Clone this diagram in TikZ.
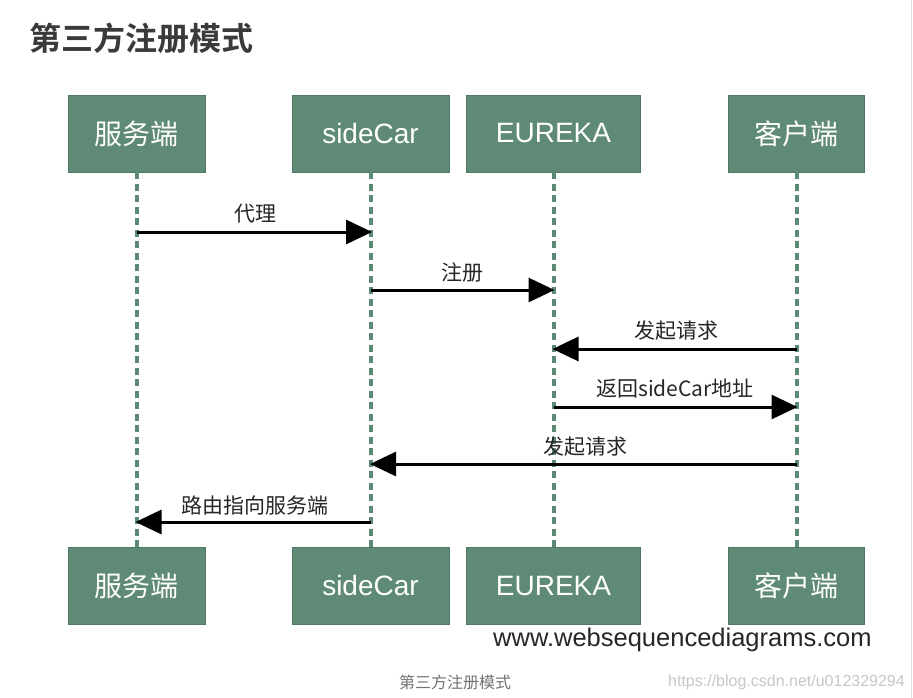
\documentclass[tikz,border=0pt]{standalone}
\usepackage{fontspec}
\setmainfont{Liberation Sans}
\newfontfamily\cjk{Noto Sans CJK SC}
\newfontfamily\cjkb{Noto Sans CJK SC Bold}
\usetikzlibrary{arrows.meta}
\definecolor{boxgreen}{HTML}{5F8A75}
\definecolor{boxedge}{HTML}{4E7A64}
\definecolor{lifegreen}{HTML}{5A8A74}
\definecolor{titlegray}{HTML}{3A3A3A}
\begin{document}
\begin{tikzpicture}[x=1pt,y=-1pt,
  actor/.style={draw=boxedge,line width=0.8pt,fill=boxgreen,minimum height=77pt,inner sep=0pt,text=white},
  lifeline/.style={draw=lifegreen,line width=4pt,dash pattern=on 7pt off 4.5pt},
  msg/.style={draw=black,line width=3pt,-{Triangle[length=26pt,width=24pt]},shorten >=-1pt},
  msglabel/.style={font=\cjk\fontsize{21}{24}\selectfont,text=black!85,inner sep=0pt}
]
\useasboundingbox (0,0) rectangle (913,698);
\fill[white] (0,0) rectangle (913,698);
\draw[black!12,line width=1pt] (911,0) -- (911,698);
% title
\node[anchor=west,inner sep=0pt,text=titlegray,font=\cjkb\fontsize{32}{36}\selectfont] (title) at (29,38) {第三方注册模式};
% boxes top
\node[actor,minimum width=137pt,font=\cjk\fontsize{28}{30}\selectfont] (s1) at (136.5,133.5) {服务端};
\node[actor,minimum width=157pt,font=\fontsize{28}{30}\selectfont] (c1) at (370.5,133.5) {sideCar};
\node[actor,minimum width=174pt,font=\fontsize{28}{30}\selectfont] (e1) at (553.5,133.5) {EUREKA};
\node[actor,minimum width=136pt,font=\cjk\fontsize{28}{30}\selectfont] (k1) at (796.5,133.5) {客户端};
% boxes bottom
\node[actor,minimum width=137pt,font=\cjk\fontsize{28}{30}\selectfont] (s2) at (136.5,585.5) {服务端};
\node[actor,minimum width=157pt,font=\fontsize{28}{30}\selectfont] (c2) at (370.5,585.5) {sideCar};
\node[actor,minimum width=174pt,font=\fontsize{28}{30}\selectfont] (e2) at (553.5,585.5) {EUREKA};
\node[actor,minimum width=136pt,font=\cjk\fontsize{28}{30}\selectfont] (k2) at (796.5,585.5) {客户端};
% lifelines
\draw[lifeline] (s1.south) -- (s2.north);
\draw[lifeline] (c1.south) -- (c2.north);
\draw[lifeline] (e1.south) -- (e2.north);
\draw[lifeline] (k1.south) -- (k2.north);
% message points
\coordinate (m1a) at (136.5,232); \coordinate (m1b) at (371,232);
\coordinate (m2a) at (371,290);   \coordinate (m2b) at (553.5,290);
\coordinate (m3a) at (796.5,349); \coordinate (m3b) at (553.5,349);
\coordinate (m4a) at (553.5,407); \coordinate (m4b) at (796.5,407);
\coordinate (m5a) at (796.5,464); \coordinate (m5b) at (371,464);
\coordinate (m6a) at (371,522);   \coordinate (m6b) at (136.5,522);
\draw[msg] (m1a) -- (m1b);
\draw[msg] (m2a) -- (m2b);
\draw[msg] (m3a) -- (m3b);
\draw[msg] (m4a) -- (m4b);
\draw[msg] (m5a) -- (m5b);
\draw[msg] (m6a) -- (m6b);
\node[msglabel] (l1) at (255,214) {代理};
\node[msglabel] (l2) at (462,273) {注册};
\node[msglabel] (l3) at (676,331) {发起请求};
\node[msglabel] (l4) at (675,389) {返回sideCar地址};
\node[msglabel] (l5) at (585,447) {发起请求};
\node[msglabel] (l6) at (255,506) {路由指向服务端};
% watermark and caption
\node[anchor=west,inner sep=0pt,text=black!85,font=\fontsize{25.5}{28}\selectfont] (wm) at (493,640) {www.websequencediagrams.com};
\node[inner sep=0pt,text=black!55,font=\cjk\fontsize{16}{18}\selectfont] (cap) at (455,682) {第三方注册模式};
\node[anchor=east,inner sep=0pt,text=black!22,font=\fontsize{16}{18}\selectfont] (url) at (905,682) {https://blog.csdn.net/u012329294};
\end{tikzpicture}
\end{document}
